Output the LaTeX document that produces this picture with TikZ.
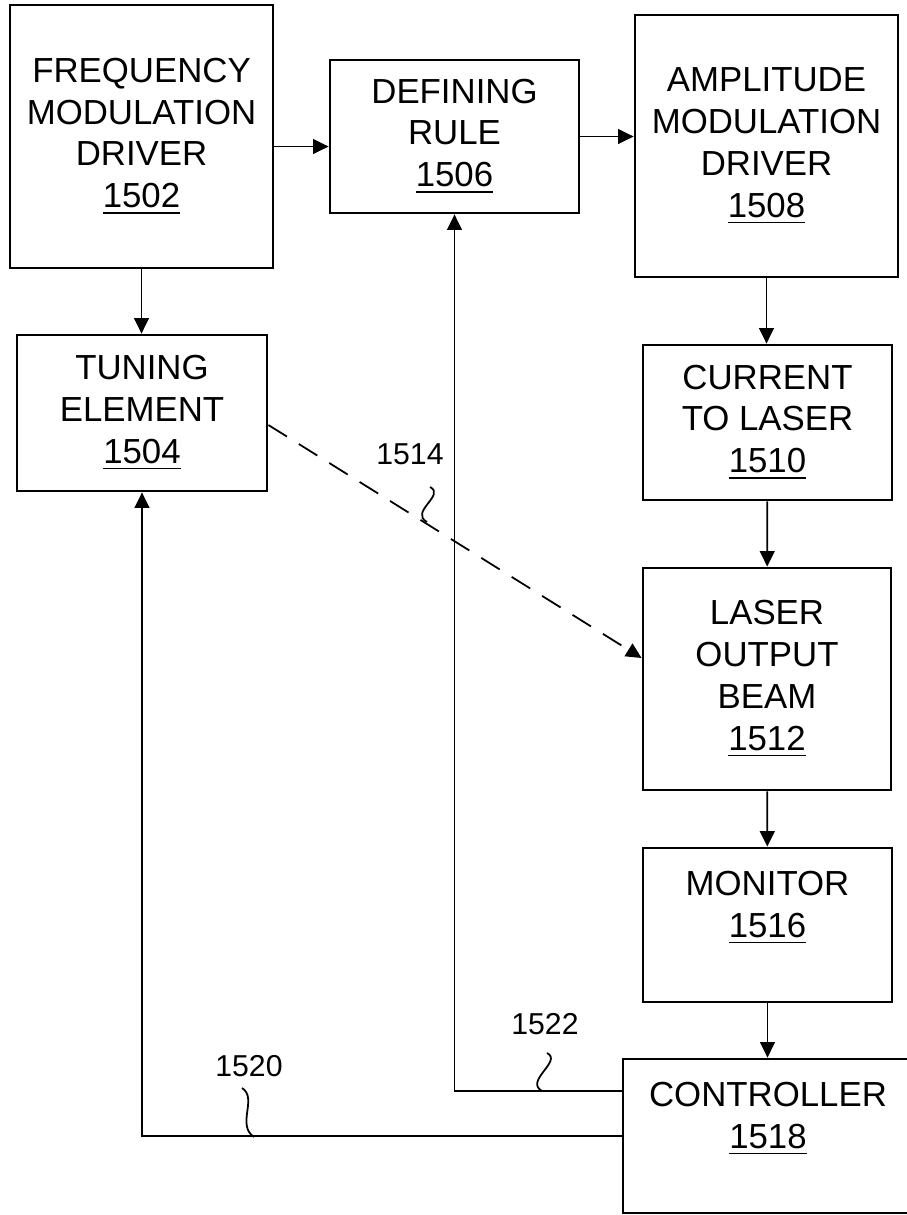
\documentclass[tikz,border=0pt]{standalone}
\usepackage{fontspec}
\setmainfont{Liberation Sans}
\usetikzlibrary{arrows.meta,positioning,calc}

\begin{document}
\begin{tikzpicture}[
    blk/.style={draw,line width=0.8pt,inner sep=0pt,align=center,
                font=\fontsize{9.9pt}{11.9pt}\selectfont},
    refnum/.style={font=\fontsize{8.6pt}{10pt}\selectfont,inner sep=0pt},
    arrow/.style={-{Triangle[length=4.4pt,width=4.2pt]},line width=0.5pt},
    lead/.style={line width=0.5pt}]

    \useasboundingbox (0,0) rectangle (9.06,-12.15);

    \node[blk,minimum width=2.63cm,minimum height=2.63cm] (fmd) at (1.415,-1.365)
      {FREQUENCY\\MODULATION\\DRIVER\\\underline{1502}};
    \node[blk,minimum width=2.49cm,minimum height=1.53cm] (dr) at (4.545,-1.365)
      {DEFINING\\RULE\\\underline{1506}};
    \node[blk,minimum width=2.63cm,minimum height=2.62cm] (amd) at (7.665,-1.46)
      {AMPLITUDE\\MODULATION\\DRIVER\\\underline{1508}};
    \node[blk,minimum width=2.50cm,minimum height=1.56cm] (te) at (1.42,-4.13)
      {TUNING\\ELEMENT\\\underline{1504}};
    \node[blk,minimum width=2.49cm,minimum height=1.55cm] (cur) at (7.675,-4.225)
      {CURRENT\\TO LASER\\\underline{1510}};
    \node[blk,minimum width=2.48cm,minimum height=2.22cm] (lob) at (7.67,-6.79)
      {LASER\\OUTPUT\\BEAM\\\underline{1512}};
    \node[blk,minimum width=2.49cm,minimum height=1.54cm] (mon) at (7.675,-9.25)
      {MONITOR\\\underline{1516}\\\mbox{}};
    \node[blk,minimum width=2.90cm,minimum height=1.54cm] (con) at (7.68,-11.36)
      {CONTROLLER\\\underline{1518}\\\mbox{}};

    \node[refnum] (r1514) at (4.10,-4.54) {1514};
    \node[refnum] (r1522) at (5.45,-10.24) {1522};
    \node[refnum] (r1520) at (2.49,-10.66) {1520};
    \coordinate (t1514) at (4.30,-4.87);
    \coordinate (b1514) at (4.27,-5.22);
    \coordinate (t1522) at (5.47,-10.53);
    \coordinate (b1522) at (5.42,-10.91);
    \coordinate (t1520) at (2.42,-10.88);
    \coordinate (b1520) at (2.54,-11.37);

    \draw[arrow] ([yshift=-0.1cm]fmd.east) -- ([yshift=-0.1cm]fmd.east -| dr.west);
    \draw[arrow] (dr.east) -- (dr.east -| amd.west);
    \draw[arrow] (fmd.south) -- (fmd.south |- te.north);
    \draw[arrow] (amd.south) -- (amd.south |- cur.north);
    \draw[arrow] (cur) -- (lob);
    \draw[arrow] (lob) -- (mon);
    \draw[arrow] (mon.south) -- (mon.south |- con.north);
    \draw[arrow,dash pattern=on 6.2pt off 4pt] ([yshift=-0.12cm]te.east) -- ([yshift=0.21cm]lob.west);
    \draw[arrow] ([yshift=0.45cm]con.west) -| (dr.south);
    \draw[arrow] (con.west) -| (te.south);

    \draw[lead] (t1514) .. controls +(0.16,-0.08) and +(-0.18,0.1) .. (b1514);
    \draw[lead] (t1522) .. controls +(0.16,-0.08) and +(-0.18,0.1) .. (b1522);
    \draw[lead] (t1520) .. controls +(0.16,-0.1) and +(-0.18,0.12) .. (b1520);
  \end{tikzpicture}
\end{document}
